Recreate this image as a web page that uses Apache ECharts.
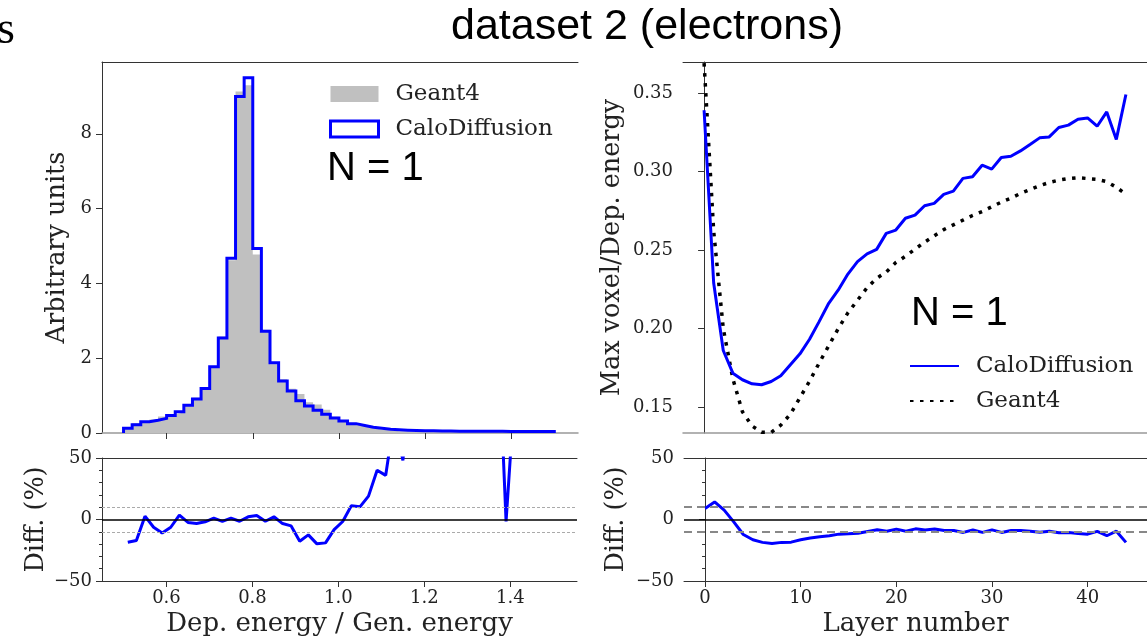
<!DOCTYPE html>
<html>
<head>
<meta charset="utf-8">
<title>dataset 2 (electrons)</title>
<script src="https://cdn.jsdelivr.net/npm/echarts@6.0.0/dist/echarts.min.js"></script>
<style>
  html, body { margin: 0; padding: 0; background: #fff; }
  #chart { width: 1147px; height: 638px; }
</style>
</head>
<body>
<div id="chart"></div>
<script>
// --- energy ratio histogram (left) ---
const binEdges = [0.50, 0.52, 0.54, 0.56, 0.58, 0.60, 0.62, 0.64, 0.66, 0.68,
  0.70, 0.72, 0.74, 0.76, 0.78, 0.80, 0.82, 0.84, 0.86, 0.88,
  0.90, 0.92, 0.94, 0.96, 0.98, 1.00, 1.02, 1.04, 1.06, 1.08,
  1.10, 1.12, 1.14, 1.16, 1.18, 1.20, 1.22, 1.24, 1.26, 1.28,
  1.30, 1.32, 1.34, 1.36, 1.38, 1.40, 1.42, 1.44, 1.46, 1.48, 1.50];
const binCenters = [0.51, 0.53, 0.55, 0.57, 0.59, 0.61, 0.63, 0.65, 0.67, 0.69,
  0.71, 0.73, 0.75, 0.77, 0.79, 0.81, 0.83, 0.85, 0.87, 0.89,
  0.91, 0.93, 0.95, 0.97, 0.99, 1.01, 1.03, 1.05, 1.07, 1.09,
  1.11, 1.13, 1.15, 1.17, 1.19, 1.21, 1.23, 1.25, 1.27, 1.29,
  1.31, 1.33, 1.35, 1.37, 1.39, 1.41, 1.43, 1.45, 1.47, 1.49];
const caloHist = [0.13, 0.22, 0.30, 0.34, 0.39, 0.47, 0.57, 0.74, 0.91, 1.19,
  1.77, 2.54, 4.67, 9.00, 9.50, 4.93, 2.72, 1.88, 1.39, 1.12,
  0.86, 0.72, 0.61, 0.50, 0.40, 0.32, 0.25, 0.20, 0.155, 0.13,
  0.10, 0.085, 0.075, 0.068, 0.062, 0.058, 0.055, 0.052, 0.050, 0.048,
  0.047, 0.046, 0.045, 0.044, 0.043, 0.042, 0.041, 0.040, 0.040, 0.040];
const geantHist = [0.16, 0.265, 0.29, 0.36, 0.44, 0.50, 0.55, 0.76, 0.94, 1.21,
  1.75, 2.58, 4.62, 9.13, 9.30, 4.77, 2.76, 1.84, 1.44, 1.18,
  1.045, 0.82, 0.76, 0.62, 0.435, 0.325, 0.225, 0.18, 0.13, 0.093,
  0.074, 0.046, 0.044, 0.030, 0.025, 0.020, 0.017, 0.015, 0.012, 0.010,
  0.008, 0.007, 0.006, 0.005, 0.044, 0.004, 0.003, 0.003, 0.002, 0.002];
const diffEnergy = [-18.5, -17, 2.7, -6.3, -11, -6.3, 3.5, -2.4, -3.3, -1.9,
  1.1, -1.6, 1.1, -1.4, 2.2, 3.3, -1.4, 2.2, -3.3, -5.2,
  -17.7, -12.5, -19.8, -19, -8.2, -1.6, 11.1, 10.3, 19, 40,
  35.9, 83, 48, 125, 150, 190, 220, 250, 300, 380,
  450, 560, 650, 165, -1.5, 104, 900, 1000, 1200, 1300];
const energyTicks = [0.6, 0.8, 1.0, 1.2, 1.4];
const histTicks = [0, 2, 4, 6, 8];

// --- max voxel per layer (right) ---
const layers = [0, 1, 2, 3, 4, 5, 6, 7, 8, 9, 10, 11, 12, 13, 14, 15, 16, 17, 18, 19, 20, 21,
  22, 23, 24, 25, 26, 27, 28, 29, 30, 31, 32, 33, 34, 35, 36, 37, 38, 39, 40, 41, 42, 43, 44];
const caloVoxel = [0.339, 0.229, 0.186, 0.1716, 0.1674, 0.1648, 0.1642, 0.1663, 0.1699, 0.1769,
  0.1839, 0.1932, 0.2044, 0.2161, 0.2246, 0.2347, 0.2426, 0.2475, 0.2504, 0.2606,
  0.2627, 0.2702, 0.2722, 0.2782, 0.2797, 0.2854, 0.2875, 0.2956, 0.2966, 0.3040,
  0.3015, 0.3089, 0.3097, 0.3131, 0.3172, 0.3214, 0.3220, 0.3280, 0.3295, 0.3333,
  0.3341, 0.3288, 0.3379, 0.3204, 0.3490];
const geantVoxel = [0.369, 0.262, 0.200, 0.168, 0.147, 0.138, 0.1340, 0.1339, 0.1385, 0.1455,
  0.156, 0.1665, 0.178, 0.189, 0.200, 0.210, 0.218, 0.226, 0.232, 0.236,
  0.242, 0.246, 0.2505, 0.255, 0.259, 0.263, 0.266, 0.269, 0.272, 0.2745,
  0.2775, 0.2805, 0.283, 0.286, 0.2885, 0.291, 0.293, 0.2945, 0.2955, 0.296,
  0.2955, 0.2950, 0.2935, 0.290, 0.2855];
const diffLayer = [8.9, 14.3, 7.6, -1.9, -12.2, -16.5, -18.6, -19.5, -18.6, -18.4,
  -16.5, -15.1, -14.1, -13.2, -11.9, -11.6, -11.1, -9.7, -8.4, -9.5,
  -7.8, -9.5, -7.6, -8.6, -7.8, -8.9, -8.9, -10.5, -8.6, -10.5,
  -8.4, -10.5, -8.9, -8.9, -9.5, -10.3, -9.5, -10.8, -10.5, -11.4,
  -11.9, -9.7, -13.2, -9.5, -18.6];
const layerTicks = [0, 10, 20, 30, 40];
const voxelTicks = [0.15, 0.20, 0.25, 0.30, 0.35];

const SERIF = 'DejaVu Serif';
const INK = '#222';

// step outline of a histogram, closed down to zero at both ends
function stepData(edges, vals) {
  const pts = [[edges[0], 0]];
  vals.forEach((v, i) => pts.push([edges[i], v]));
  pts.push([edges[edges.length - 1], vals[vals.length - 1]]);
  pts.push([edges[edges.length - 1], 0]);
  return pts;
}
const pairs = (xs, ys) => xs.map((x, i) => [x, ys[i]]);
const minus = v => (v < 0 ? '\u2212' + Math.abs(v) : String(v));

const tickLabel = { fontFamily: SERIF, fontSize: 18, color: INK };
const xName = { fontFamily: SERIF, fontSize: 26, color: INK };
const yName = { fontFamily: SERIF, fontSize: 25.5, color: INK };

function bottomAxis(grid, min, max, ticks, opts) {
  return Object.assign({
    type: 'value', gridIndex: grid, min: min, max: max, position: 'bottom',
    axisLine: { show: true, lineStyle: { color: '#333', width: 1 } },
    axisTick: { show: true, length: 6, customValues: ticks, lineStyle: { color: '#333' } },
    axisLabel: { show: false, customValues: ticks },
    splitLine: { show: false }
  }, opts || {});
}
function topSpine(grid, min, max) {
  return {
    type: 'value', gridIndex: grid, min: min, max: max, position: 'top',
    axisLine: { show: true, onZero: false, lineStyle: { color: '#333', width: 1 } },
    axisTick: { show: false }, axisLabel: { show: false }, splitLine: { show: false }
  };
}
function diffYAxis(grid, gap) {
  return {
    type: 'value', gridIndex: grid, min: -50, max: 50, interval: 50,
    name: 'Diff. (%)', nameLocation: 'middle', nameGap: gap, nameTextStyle: yName,
    axisLine: { show: true, lineStyle: { color: '#333' } },
    axisTick: { show: true, length: 6, lineStyle: { color: '#333' } },
    minorTick: { show: true, splitNumber: 5, length: 3, lineStyle: { color: '#333' } },
    axisLabel: Object.assign({ margin: 10, formatter: minus }, tickLabel),
    splitLine: { show: false }
  };
}

const chart = echarts.init(document.getElementById('chart'));

const option = {
  animation: false,
  backgroundColor: '#fff',
  grid: [
    { left: 102, top: 62, width: 476, height: 371 },
    { left: 102, top: 458, width: 475, height: 123 },
    { left: 683, top: 62, width: 476, height: 371 },
    { left: 684, top: 458, width: 476, height: 123 }
  ],
  xAxis: [
    bottomAxis(0, 0.45, 1.555, energyTicks, {
      axisLine: { show: true, onZero: false, lineStyle: { color: '#999', width: 1.5 } }
    }),
    bottomAxis(1, 0.45, 1.555, energyTicks, {
      axisLine: { show: true, onZero: false, lineStyle: { color: '#333', width: 1 } },
      axisLabel: Object.assign({ show: true, customValues: energyTicks, margin: 8,
        formatter: v => v.toFixed(1) }, tickLabel),
      name: 'Dep. energy / Gen. energy', nameLocation: 'middle', nameGap: 30,
      nameTextStyle: xName
    }),
    bottomAxis(2, -2.2, 46.2, layerTicks, {
      axisLine: { show: true, onZero: false, lineStyle: { color: '#999', width: 1.5 } },
      axisTick: { show: false }
    }),
    bottomAxis(3, -2.2, 46.2, layerTicks, {
      axisLine: { show: true, onZero: false, lineStyle: { color: '#333', width: 1 } },
      axisLabel: Object.assign({ show: true, customValues: layerTicks, margin: 8 }, tickLabel),
      name: 'Layer number', nameLocation: 'middle', nameGap: 30, nameTextStyle: xName
    }),
    topSpine(0, 0.45, 1.555),
    topSpine(1, 0.45, 1.555),
    topSpine(2, -2.2, 46.2),
    topSpine(3, -2.2, 46.2)
  ],
  yAxis: [
    {
      type: 'value', gridIndex: 0, min: 0, max: 9.92,
      name: 'Arbitrary units', nameLocation: 'middle', nameGap: 32, nameTextStyle: yName,
      axisLine: { show: true, lineStyle: { color: '#333' } },
      axisTick: { show: true, length: 6, customValues: histTicks, lineStyle: { color: '#333' } },
      axisLabel: Object.assign({ margin: 10, customValues: histTicks }, tickLabel),
      splitLine: { show: false }
    },
    diffYAxis(1, 53),
    {
      type: 'value', gridIndex: 2, min: 0.1335, max: 0.3697,
      name: 'Max voxel/Dep. energy', nameLocation: 'middle', nameGap: 58, nameTextStyle: yName,
      axisLine: { show: true, lineStyle: { color: '#333' } },
      axisTick: { show: true, length: 6, customValues: voxelTicks, lineStyle: { color: '#333' } },
      axisLabel: Object.assign({ margin: 10, customValues: voxelTicks,
        formatter: v => v.toFixed(2) }, tickLabel),
      splitLine: { show: false }
    },
    diffYAxis(3, 55)
  ],
  legend: [
    {
      left: 329, top: 82, padding: 0, orient: 'vertical', selectedMode: false,
      itemWidth: 48, itemHeight: 16, itemGap: 11,
      textStyle: { fontFamily: SERIF, fontSize: 23, color: INK, lineHeight: 24, padding: [0, 0, 0, 12] },
      data: [
        { name: 'Geant4', icon: 'rect', itemStyle: { color: '#c0c0c0', borderWidth: 0 } },
        { name: 'CaloDiffusion', icon: 'rect',
          itemStyle: { color: '#ffffff', borderColor: '#0000ff', borderWidth: 3 } }
      ]
    },
    {
      left: 909, top: 354, padding: 0, orient: 'vertical', selectedMode: false,
      itemWidth: 49, itemHeight: 14, itemGap: 11,
      textStyle: { fontFamily: SERIF, fontSize: 23, color: INK, lineHeight: 24, padding: [0, 0, 0, 12] },
      formatter: name => name.replace(' /layer', ''),
      data: [
        { name: 'CaloDiffusion /layer', itemStyle: { color: 'rgba(0,0,0,0)', borderWidth: 0, opacity: 0 } },
        { name: 'Geant4 /layer', itemStyle: { color: 'rgba(0,0,0,0)', borderWidth: 0, opacity: 0 } }
      ]
    }
  ],
  graphic: [
    { type: 'text', x: 647, y: 27, silent: true,
      style: { text: 'dataset 2 (electrons)', font: '43px "Liberation Sans"', fill: '#000',
        align: 'center', verticalAlign: 'middle' } },
    { type: 'text', x: -3, y: 31, silent: true,
      style: { text: 's', font: '46px "Liberation Serif"', fill: '#000',
        align: 'left', verticalAlign: 'middle' } },
    { type: 'text', x: 327, y: 169, silent: true,
      style: { text: 'N = 1', font: '40px "Liberation Sans"', fill: '#000',
        align: 'left', verticalAlign: 'middle' } },
    { type: 'text', x: 911, y: 314, silent: true,
      style: { text: 'N = 1', font: '40px "Liberation Sans"', fill: '#000',
        align: 'left', verticalAlign: 'middle' } }
  ],
  series: [
    {
      name: 'Geant4', type: 'line', xAxisIndex: 0, yAxisIndex: 0,
      step: 'end', symbol: 'none', silent: true,
      data: stepData(binEdges, geantHist),
      itemStyle: { color: '#c0c0c0' },
      lineStyle: { width: 0, color: '#c0c0c0' },
      areaStyle: { color: '#c0c0c0', opacity: 1 },
      z: 2
    },
    {
      name: 'CaloDiffusion', type: 'line', xAxisIndex: 0, yAxisIndex: 0,
      step: 'end', symbol: 'none', silent: true,
      data: stepData(binEdges, caloHist),
      itemStyle: { color: '#0000ff' },
      lineStyle: { width: 3, color: '#0000ff', join: 'miter' },
      z: 3
    },
    {
      name: 'diff energy', type: 'line', xAxisIndex: 1, yAxisIndex: 1,
      symbol: 'none', silent: true, clip: true,
      data: pairs(binCenters, diffEnergy),
      lineStyle: { width: 3, color: '#0000ff' },
      z: 3,
      markLine: {
        silent: true, symbol: 'none', label: { show: false },
        data: [
          { yAxis: 0, lineStyle: { color: '#000', width: 1.5, type: 'solid' } },
          { yAxis: 10, lineStyle: { color: '#aaa', width: 1, type: [3, 2] } },
          { yAxis: -10, lineStyle: { color: '#aaa', width: 1, type: [3, 2] } }
        ]
      }
    },
    {
      name: 'CaloDiffusion /layer', type: 'line', xAxisIndex: 2, yAxisIndex: 2,
      symbol: 'none', silent: true, clip: true,
      data: pairs(layers, caloVoxel),
      itemStyle: { color: '#0000ff' },
      lineStyle: { width: 3, color: '#0000ff' },
      z: 3
    },
    {
      name: 'Geant4 /layer', type: 'line', xAxisIndex: 2, yAxisIndex: 2,
      symbol: 'none', silent: true, clip: true,
      data: pairs(layers, geantVoxel),
      itemStyle: { color: '#000' },
      lineStyle: { width: 3.5, color: '#000', type: [3.5, 6.5] },
      z: 2
    },
    {
      name: 'diff layer', type: 'line', xAxisIndex: 3, yAxisIndex: 3,
      symbol: 'none', silent: true, clip: true,
      data: pairs(layers, diffLayer),
      lineStyle: { width: 3, color: '#0000ff' },
      z: 3,
      markLine: {
        silent: true, symbol: 'none', label: { show: false },
        data: [
          { yAxis: 0, lineStyle: { color: '#000', width: 1.5, type: 'solid' } },
          { yAxis: 10, lineStyle: { color: '#888', width: 2, type: [8, 5] } },
          { yAxis: -10, lineStyle: { color: '#888', width: 2, type: [8, 5] } }
        ]
      }
    }
  ]
};

chart.setOption(option);
window.addEventListener('resize', chart.resize);
</script>
</body>
</html>
